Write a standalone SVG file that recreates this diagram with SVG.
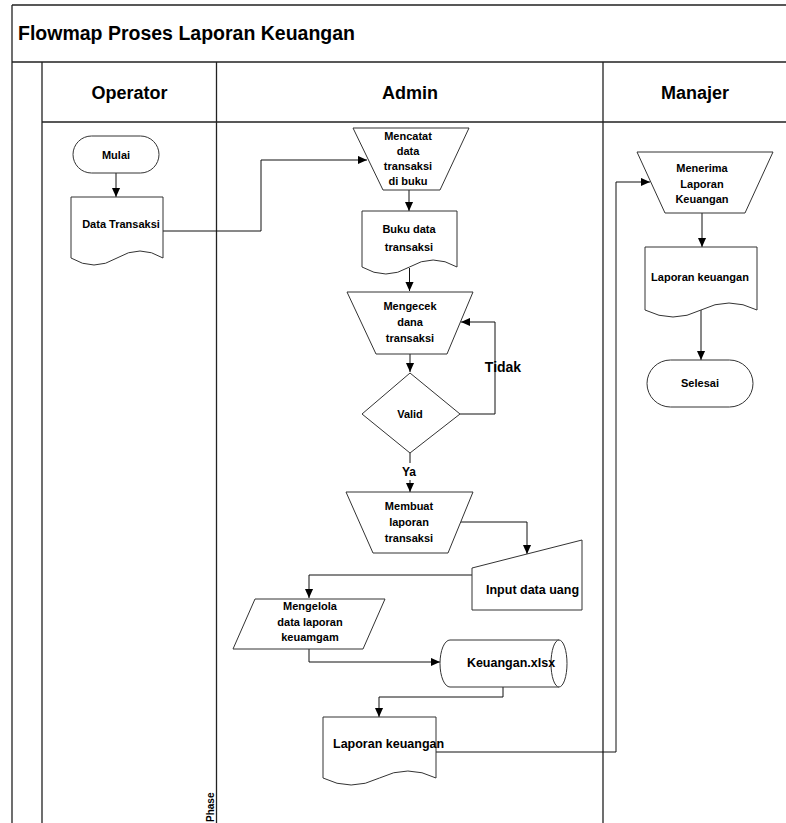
<svg xmlns="http://www.w3.org/2000/svg" width="786" height="823" viewBox="0 0 786 823">
  <style>
    .lane { fill: none; stroke: #222; stroke-width: 1.3; }
    .shape { fill: #fff; stroke: #333; stroke-width: 1; }
    .conn { fill: none; stroke: #111; stroke-width: 1; }
    text { font-family: "Liberation Sans", Arial, sans-serif; font-weight: bold; fill: #000; }
    .t11 { font-size: 11px; text-anchor: middle; }
    .hdr { font-size: 18px; text-anchor: middle; }
  </style>
  <defs>
    <marker id="arr" viewBox="0 0 10 10" refX="10" refY="5" markerWidth="9" markerHeight="9" markerUnits="userSpaceOnUse" orient="auto">
      <path d="M0,0.5 L10,5 L0,9.5 Z" fill="#000"/>
    </marker>
  </defs>
  <rect width="786" height="823" fill="#fff"/>

  <!-- pool frame and lanes -->
  <g id="pool">
    <path class="lane" d="M12,5 H786 M12,5 V823 M12,62 H786 M42,62 V823 M42,122 H786 M216.5,62 V823 M603,62 V823"/>
    <text x="18" y="40" style="font-size:19.5px">Flowmap Proses Laporan Keuangan</text>
    <text class="hdr" x="129.5" y="99">Operator</text>
    <text class="hdr" x="410" y="99">Admin</text>
    <text class="hdr" x="695" y="99">Manajer</text>
    <text transform="translate(214,823) rotate(-90)" x="1" y="0" style="font-size:10px">Phase</text>
  </g>

  <!-- connectors -->
  <g id="connectors">
    <path class="conn" d="M116,173 V197" marker-end="url(#arr)"/>
    <path class="conn" d="M163,231 H261 V160 H367" marker-end="url(#arr)"/>
    <path class="conn" d="M409,190 V211" marker-end="url(#arr)"/>
    <path class="conn" d="M409.5,268 V291" marker-end="url(#arr)"/>
    <path class="conn" d="M410,354 V372" marker-end="url(#arr)"/>
    <path class="conn" d="M460,414 H495 V322 H461" marker-end="url(#arr)"/>
    <path class="conn" d="M410,453 V463"/>
    <path class="conn" d="M410,480 V492" marker-end="url(#arr)"/>
    <path class="conn" d="M461,522 H527 V554" marker-end="url(#arr)"/>
    <path class="conn" d="M472,575 H309 V598" marker-end="url(#arr)"/>
    <path class="conn" d="M309,649 V662 H440" marker-end="url(#arr)"/>
    <path class="conn" d="M503,687 V697 H379 V717" marker-end="url(#arr)"/>
    <path class="conn" d="M436,752 H616 V182 H650" marker-end="url(#arr)"/>
    <path class="conn" d="M702,213 V247" marker-end="url(#arr)"/>
    <path class="conn" d="M701,310 V360" marker-end="url(#arr)"/>
    <text x="503" y="372" style="font-size:14px;text-anchor:middle">Tidak</text>
    <text x="409" y="476" style="font-size:12px;text-anchor:middle">Ya</text>
  </g>

  <!-- Operator lane -->
  <g id="mulai">
    <rect class="shape" x="73" y="136" width="86" height="37" rx="18.5"/>
    <text class="t11" x="116" y="159">Mulai</text>
  </g>
  <g id="data-transaksi">
    <path class="shape" d="M71,197 H163 V258 Q140,244 117,258 T71,258 Z"/>
    <text class="t11" x="121" y="228">Data Transaksi</text>
  </g>

  <!-- Admin lane -->
  <g id="mencatat">
    <polygon class="shape" points="353,128 469,128 440,190 383,190"/>
    <text class="t11" x="408" y="140">Mencatat</text>
    <text class="t11" x="408" y="155">data</text>
    <text class="t11" x="408" y="170">transaksi</text>
    <text class="t11" x="408" y="185">di buku</text>
  </g>
  <g id="buku-data">
    <path class="shape" d="M362,211 H457 V267 Q433,253 409.5,267 T362,267 Z"/>
    <text class="t11" x="409" y="233">Buku data</text>
    <text class="t11" x="409" y="251">transaksi</text>
  </g>
  <g id="mengecek">
    <polygon class="shape" points="347,292 473,292 447,354 376,354"/>
    <text class="t11" x="410" y="310">Mengecek</text>
    <text class="t11" x="410" y="326">dana</text>
    <text class="t11" x="410" y="342">transaksi</text>
  </g>
  <g id="valid">
    <polygon class="shape" points="410,373 460,414 410,453 362,414"/>
    <text class="t11" x="410" y="418">Valid</text>
  </g>
  <g id="membuat">
    <polygon class="shape" points="346,492 473,492 448,553 373,553"/>
    <text class="t11" x="409" y="510">Membuat</text>
    <text class="t11" x="409" y="526">laporan</text>
    <text class="t11" x="409" y="542">transaksi</text>
  </g>
  <g id="input-data-uang">
    <polygon class="shape" points="472,568 582,540 582,610 472,610"/>
    <text x="486" y="594" style="font-size:12.5px">Input data uang</text>
  </g>
  <g id="mengelola">
    <polygon class="shape" points="255,599 385,599 363,649 233,649"/>
    <text class="t11" x="310" y="610">Mengelola</text>
    <text class="t11" x="310" y="626">data laporan</text>
    <text class="t11" x="310" y="641">keuamgam</text>
  </g>
  <g id="keuangan-xlsx">
    <path class="shape" d="M450,640 H559 A8,23.5 0 0 1 559,687 H450 A10,23.5 0 0 1 450,640 Z"/>
    <path class="shape" d="M559,640 A8,23.5 0 0 0 559,687" fill="none"/>
    <text x="511" y="667" style="font-size:12.5px;text-anchor:middle">Keuangan.xlsx</text>
  </g>
  <g id="laporan-admin">
    <path class="shape" d="M323,717 H436 V778 Q408,764 379.5,778 T323,778 Z"/>
    <text x="333" y="748" style="font-size:12.5px">Laporan keuangan</text>
  </g>

  <!-- Manajer lane -->
  <g id="menerima">
    <polygon class="shape" points="637,152 773,152 745,213 665,213"/>
    <text class="t11" x="702" y="172">Menerima</text>
    <text class="t11" x="702" y="188">Laporan</text>
    <text class="t11" x="702" y="203">Keuangan</text>
  </g>
  <g id="laporan-manajer">
    <path class="shape" d="M645,247 H757 V310 Q729,296 701,310 T645,310 Z"/>
    <text class="t11" x="700" y="281">Laporan keuangan</text>
  </g>
  <g id="selesai">
    <rect class="shape" x="647" y="360" width="106" height="47" rx="23.5"/>
    <text class="t11" x="700" y="387">Selesai</text>
  </g>
</svg>
